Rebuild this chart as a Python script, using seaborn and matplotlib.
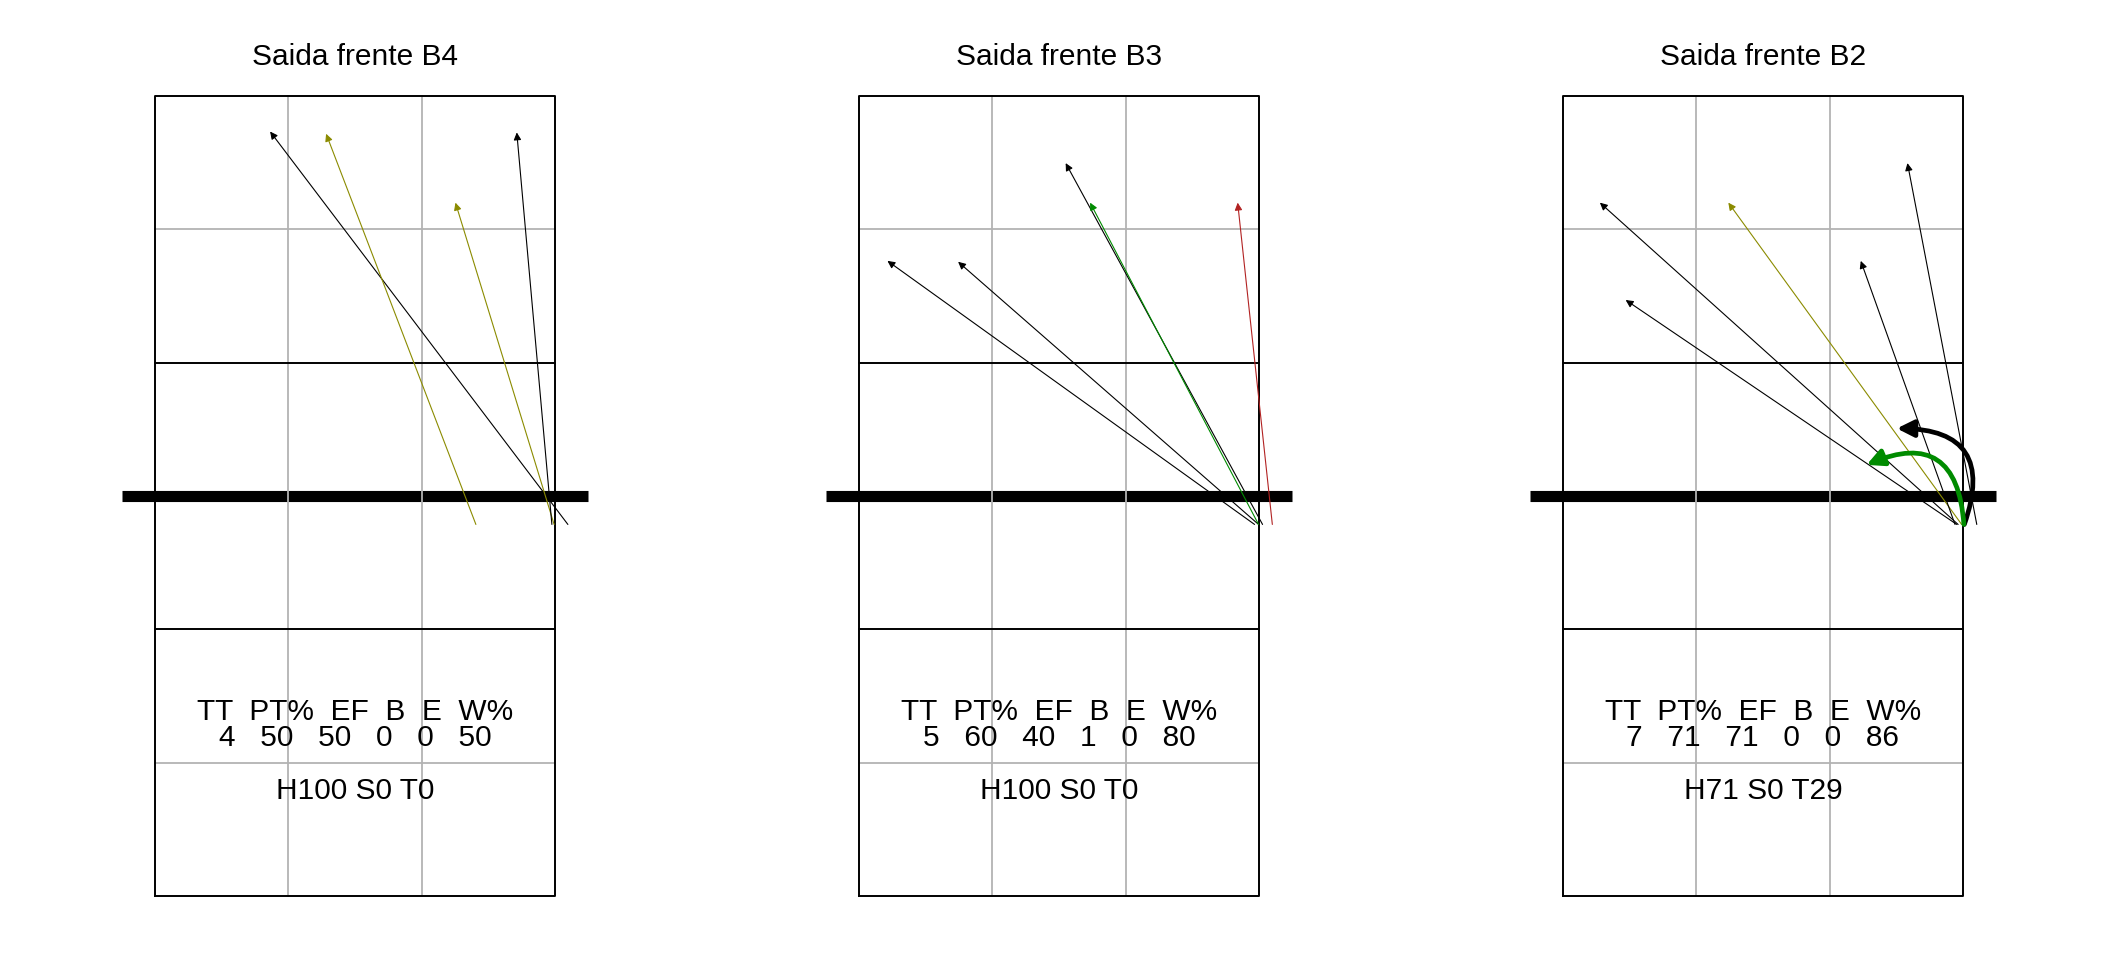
import matplotlib
matplotlib.use("Agg")
import matplotlib.pyplot as plt
import seaborn as sns

# --- datos (coordenadas en metros: x 0-9, red en y=0, fondo de cancha y=9) ---
titles = ["Saida frente B4", "Saida frente B3", "Saida frente B2"]

b4_x0 = [9.29, 7.22, 8.98, 8.93]
b4_y0 = [-0.64, -0.64, -0.64, -0.64]
b4_x1 = [2.59, 3.85, 6.76, 8.14]
b4_y1 = [8.20, 8.15, 6.60, 8.18]
b4_res = ["n", "o", "o", "n"]

b3_x0 = [8.90, 8.99, 9.08, 8.99, 9.30]
b3_y0 = [-0.64, -0.64, -0.64, -0.64, -0.64]
b3_x1 = [0.64, 2.23, 4.65, 5.20, 8.52]
b3_y1 = [5.29, 5.27, 7.49, 6.60, 6.60]
b3_res = ["n", "n", "n", "g", "r"]

b2_x0 = [8.89, 8.86, 8.97, 8.82, 9.31]
b2_y0 = [-0.64, -0.64, -0.64, -0.64, -0.64]
b2_x1 = [0.83, 1.41, 3.72, 6.70, 7.75]
b2_y1 = [6.60, 4.41, 6.60, 5.29, 7.49]
b2_res = ["n", "n", "o", "n", "n"]

# flechas curvas (solo B2)
b2_curve_x0 = [9.03, 9.02]
b2_curve_y0 = [-0.64, -0.64]
b2_curve_x1 = [7.51, 6.83]
b2_curve_y1 = [1.52, 0.70]
b2_curve_res = ["n", "g"]

stat_header = "TT  PT%  EF  B  E  W%"
stats_tt = [4, 5, 7]
stats_pt = [50, 60, 71]
stats_ef = [50, 40, 71]
stats_b = [0, 1, 0]
stats_e = [0, 0, 0]
stats_w = [50, 80, 86]
stats_h = [100, 100, 71]
stats_s = [0, 0, 0]
stats_t = [0, 0, 29]

paleta = {"n": "black", "o": "#8b8b00", "g": "#008b00", "r": "#b22222"}

sns.set_theme(style="white")
plt.rcParams["font.family"] = ["Liberation Sans", "DejaVu Sans"]
plt.rcParams["text.color"] = "black"

fig = plt.figure(figsize=(21.12, 9.6), dpi=100)

px = 400 / 9.0          # pixeles por metro
W, H = 2112.0, 960.0
net_py = 496.0          # posicion de la red en pixeles desde arriba
court_left = [155, 859, 1563]

x_lo, x_hi = -1.0, 10.0
y_lo, y_hi = -9.5, 10.5

paneles = [
    (b4_x0, b4_y0, b4_x1, b4_y1, b4_res),
    (b3_x0, b3_y0, b3_x1, b3_y1, b3_res),
    (b2_x0, b2_y0, b2_x1, b2_y1, b2_res),
]

for i, (x0, y0, x1, y1, res) in enumerate(paneles):
    left = (court_left[i] + x_lo * px) / W
    bottom = (H - (net_py - y_lo * px)) / H
    ax = fig.add_axes([left, bottom, (x_hi - x_lo) * px / W, (y_hi - y_lo) * px / H])
    ax.set_xlim(x_lo, x_hi)
    ax.set_ylim(y_lo, y_hi)
    ax.set_axis_off()

    # red
    ax.plot([-0.75, 9.75], [0, 0], color="black", lw=8, solid_capstyle="butt", zorder=1)
    # lineas grises
    for gx in [3, 6]:
        ax.plot([gx, gx], [-9, 9], color="#b3b3b3", lw=1.3, zorder=2)
    for gy in [-6, 6]:
        ax.plot([0, 9], [gy, gy], color="#b3b3b3", lw=1.3, zorder=2)
    # lineas de ataque y contorno
    for ay in [-3, 3]:
        ax.plot([0, 9], [ay, ay], color="black", lw=1.4, zorder=3)
    ax.plot([0, 9, 9, 0, 0], [-9, -9, 9, 9, -9], color="black", lw=1.4, zorder=3)

    # flechas
    for xa, ya, xb, yb, r in zip(x0, y0, x1, y1, res):
        ax.annotate("", xy=(xb, yb), xytext=(xa, ya),
                    arrowprops=dict(arrowstyle="-|>", color=paleta[r], lw=0.8,
                                    mutation_scale=11, shrinkA=0, shrinkB=0),
                    zorder=4)

    if i == 2:
        for xa, ya, xb, yb, r in zip(b2_curve_x0, b2_curve_y0, b2_curve_x1,
                                     b2_curve_y1, b2_curve_res):
            ax.annotate("", xy=(xb, yb), xytext=(xa, ya),
                        arrowprops=dict(arrowstyle="-|>", color=paleta[r], lw=3.4,
                                        mutation_scale=25, shrinkA=0, shrinkB=0,
                                        connectionstyle="arc3,rad=0.7"),
                        zorder=5)

    ax.text(4.5, 9.88, titles[i], ha="center", va="center", fontsize=21.5, color="black")
    ax.text(4.5, -4.85, stat_header, ha="center", va="center", fontsize=21.5, color="black")
    numeros = "{}   {}   {}   {}   {}   {}".format(stats_tt[i], stats_pt[i], stats_ef[i],
                                                 stats_b[i], stats_e[i], stats_w[i])
    ax.text(4.5, -5.44, numeros, ha="center", va="center", fontsize=21.5, color="black")
    ax.text(4.5, -6.64, "H{} S{} T{}".format(stats_h[i], stats_s[i], stats_t[i]),
            ha="center", va="center", fontsize=21.5, color="black")

fig.savefig("out.png", dpi=100, facecolor="white")
